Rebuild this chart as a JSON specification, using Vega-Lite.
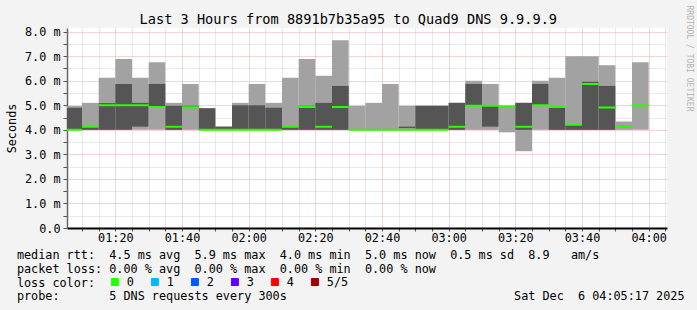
{
  "$schema": "https://vega.github.io/schema/vega-lite/v6.json",
  "width": 600,
  "height": 200,
  "autosize": {"type": "none"},
  "padding": {"left": 67, "top": 28, "right": 30, "bottom": 82},
  "background": "#f3f3f3",
  "title": {
    "text": "Last 3 Hours from 8891b7b35a95 to Quad9 DNS 9.9.9.9",
    "font": "DejaVu Sans Mono", "fontSize": 13.6, "fontWeight": "normal", "color": "black",
    "anchor": "middle", "frame": "group", "dx": -18.7, "dy": 35, "offset": 2, "baseline": "alphabetic"
  },
  "config": {
    "view": {"fill": "white", "stroke": null},
    "axis": {"labelFont": "DejaVu Sans Mono", "titleFont": "DejaVu Sans Mono", "labelColor": "black", "titleColor": "black", "labelFontSize": 11.8, "titleFontSize": 11.8, "titleFontWeight": "normal"}
  },
  "datasets": {
    "bands": [
      {"t0": "2025-12-06T01:05:00", "t1": "2025-12-06T01:10:00", "band": "outer", "lo": 4.0, "hi": 4.97},
      {"t0": "2025-12-06T01:05:00", "t1": "2025-12-06T01:10:00", "band": "inner", "lo": 4.0, "hi": 4.9},
      {"t0": "2025-12-06T01:10:00", "t1": "2025-12-06T01:15:00", "band": "outer", "lo": 4.0, "hi": 5.1},
      {"t0": "2025-12-06T01:10:00", "t1": "2025-12-06T01:15:00", "band": "inner", "lo": 4.0, "hi": 4.13},
      {"t0": "2025-12-06T01:15:00", "t1": "2025-12-06T01:20:00", "band": "outer", "lo": 4.0, "hi": 6.12},
      {"t0": "2025-12-06T01:15:00", "t1": "2025-12-06T01:20:00", "band": "inner", "lo": 4.0, "hi": 5.09},
      {"t0": "2025-12-06T01:20:00", "t1": "2025-12-06T01:25:00", "band": "outer", "lo": 4.0, "hi": 6.89},
      {"t0": "2025-12-06T01:20:00", "t1": "2025-12-06T01:25:00", "band": "inner", "lo": 4.0, "hi": 5.87},
      {"t0": "2025-12-06T01:25:00", "t1": "2025-12-06T01:30:00", "band": "outer", "lo": 4.0, "hi": 6.12},
      {"t0": "2025-12-06T01:25:00", "t1": "2025-12-06T01:30:00", "band": "inner", "lo": 4.13, "hi": 5.1},
      {"t0": "2025-12-06T01:30:00", "t1": "2025-12-06T01:35:00", "band": "outer", "lo": 4.0, "hi": 6.75},
      {"t0": "2025-12-06T01:30:00", "t1": "2025-12-06T01:35:00", "band": "inner", "lo": 4.93, "hi": 5.87},
      {"t0": "2025-12-06T01:35:00", "t1": "2025-12-06T01:40:00", "band": "outer", "lo": 4.0, "hi": 5.1},
      {"t0": "2025-12-06T01:35:00", "t1": "2025-12-06T01:40:00", "band": "inner", "lo": 4.0, "hi": 4.98},
      {"t0": "2025-12-06T01:40:00", "t1": "2025-12-06T01:45:00", "band": "outer", "lo": 4.0, "hi": 5.87},
      {"t0": "2025-12-06T01:40:00", "t1": "2025-12-06T01:45:00", "band": "inner", "lo": 4.92, "hi": 4.98},
      {"t0": "2025-12-06T01:45:00", "t1": "2025-12-06T01:50:00", "band": "outer", "lo": 4.0, "hi": 4.88},
      {"t0": "2025-12-06T01:45:00", "t1": "2025-12-06T01:50:00", "band": "inner", "lo": 4.0, "hi": 4.88},
      {"t0": "2025-12-06T01:50:00", "t1": "2025-12-06T01:55:00", "band": "outer", "lo": 4.0, "hi": 4.13},
      {"t0": "2025-12-06T01:50:00", "t1": "2025-12-06T01:55:00", "band": "inner", "lo": 4.0, "hi": 4.13},
      {"t0": "2025-12-06T01:55:00", "t1": "2025-12-06T02:00:00", "band": "outer", "lo": 4.0, "hi": 5.1},
      {"t0": "2025-12-06T01:55:00", "t1": "2025-12-06T02:00:00", "band": "inner", "lo": 4.0, "hi": 5.0},
      {"t0": "2025-12-06T02:00:00", "t1": "2025-12-06T02:05:00", "band": "outer", "lo": 4.0, "hi": 5.87},
      {"t0": "2025-12-06T02:00:00", "t1": "2025-12-06T02:05:00", "band": "inner", "lo": 4.0, "hi": 5.0},
      {"t0": "2025-12-06T02:05:00", "t1": "2025-12-06T02:10:00", "band": "outer", "lo": 4.0, "hi": 5.1},
      {"t0": "2025-12-06T02:05:00", "t1": "2025-12-06T02:10:00", "band": "inner", "lo": 4.0, "hi": 4.9},
      {"t0": "2025-12-06T02:10:00", "t1": "2025-12-06T02:15:00", "band": "outer", "lo": 4.0, "hi": 6.12},
      {"t0": "2025-12-06T02:10:00", "t1": "2025-12-06T02:15:00", "band": "inner", "lo": 4.0, "hi": 4.13},
      {"t0": "2025-12-06T02:15:00", "t1": "2025-12-06T02:20:00", "band": "outer", "lo": 4.0, "hi": 6.89},
      {"t0": "2025-12-06T02:15:00", "t1": "2025-12-06T02:20:00", "band": "inner", "lo": 4.0, "hi": 4.98},
      {"t0": "2025-12-06T02:20:00", "t1": "2025-12-06T02:25:00", "band": "outer", "lo": 4.0, "hi": 6.2},
      {"t0": "2025-12-06T02:20:00", "t1": "2025-12-06T02:25:00", "band": "inner", "lo": 4.0, "hi": 5.1},
      {"t0": "2025-12-06T02:25:00", "t1": "2025-12-06T02:30:00", "band": "outer", "lo": 4.0, "hi": 7.65},
      {"t0": "2025-12-06T02:25:00", "t1": "2025-12-06T02:30:00", "band": "inner", "lo": 4.0, "hi": 5.79},
      {"t0": "2025-12-06T02:30:00", "t1": "2025-12-06T02:35:00", "band": "outer", "lo": 4.0, "hi": 4.98},
      {"t0": "2025-12-06T02:35:00", "t1": "2025-12-06T02:40:00", "band": "outer", "lo": 4.0, "hi": 5.1},
      {"t0": "2025-12-06T02:40:00", "t1": "2025-12-06T02:45:00", "band": "outer", "lo": 4.0, "hi": 5.87},
      {"t0": "2025-12-06T02:45:00", "t1": "2025-12-06T02:50:00", "band": "outer", "lo": 4.0, "hi": 4.98},
      {"t0": "2025-12-06T02:45:00", "t1": "2025-12-06T02:50:00", "band": "inner", "lo": 4.07, "hi": 4.13},
      {"t0": "2025-12-06T02:50:00", "t1": "2025-12-06T02:55:00", "band": "outer", "lo": 4.0, "hi": 4.98},
      {"t0": "2025-12-06T02:50:00", "t1": "2025-12-06T02:55:00", "band": "inner", "lo": 4.0, "hi": 4.98},
      {"t0": "2025-12-06T02:55:00", "t1": "2025-12-06T03:00:00", "band": "outer", "lo": 4.0, "hi": 4.98},
      {"t0": "2025-12-06T02:55:00", "t1": "2025-12-06T03:00:00", "band": "inner", "lo": 4.0, "hi": 4.98},
      {"t0": "2025-12-06T03:00:00", "t1": "2025-12-06T03:05:00", "band": "outer", "lo": 4.0, "hi": 5.1},
      {"t0": "2025-12-06T03:00:00", "t1": "2025-12-06T03:05:00", "band": "inner", "lo": 4.0, "hi": 5.1},
      {"t0": "2025-12-06T03:05:00", "t1": "2025-12-06T03:10:00", "band": "outer", "lo": 4.0, "hi": 6.0},
      {"t0": "2025-12-06T03:05:00", "t1": "2025-12-06T03:10:00", "band": "inner", "lo": 4.98, "hi": 5.87},
      {"t0": "2025-12-06T03:10:00", "t1": "2025-12-06T03:15:00", "band": "outer", "lo": 4.0, "hi": 5.87},
      {"t0": "2025-12-06T03:10:00", "t1": "2025-12-06T03:15:00", "band": "inner", "lo": 4.13, "hi": 4.98},
      {"t0": "2025-12-06T03:15:00", "t1": "2025-12-06T03:20:00", "band": "outer", "lo": 3.9, "hi": 4.98},
      {"t0": "2025-12-06T03:15:00", "t1": "2025-12-06T03:20:00", "band": "inner", "lo": 4.93, "hi": 4.98},
      {"t0": "2025-12-06T03:20:00", "t1": "2025-12-06T03:25:00", "band": "outer", "lo": 3.13, "hi": 5.1},
      {"t0": "2025-12-06T03:20:00", "t1": "2025-12-06T03:25:00", "band": "inner", "lo": 4.0, "hi": 5.1},
      {"t0": "2025-12-06T03:25:00", "t1": "2025-12-06T03:30:00", "band": "outer", "lo": 4.0, "hi": 6.0},
      {"t0": "2025-12-06T03:25:00", "t1": "2025-12-06T03:30:00", "band": "inner", "lo": 4.98, "hi": 5.87},
      {"t0": "2025-12-06T03:30:00", "t1": "2025-12-06T03:35:00", "band": "outer", "lo": 4.0, "hi": 6.12},
      {"t0": "2025-12-06T03:30:00", "t1": "2025-12-06T03:35:00", "band": "inner", "lo": 4.0, "hi": 4.93},
      {"t0": "2025-12-06T03:35:00", "t1": "2025-12-06T03:40:00", "band": "outer", "lo": 4.0, "hi": 7.0},
      {"t0": "2025-12-06T03:35:00", "t1": "2025-12-06T03:40:00", "band": "inner", "lo": 4.0, "hi": 4.21},
      {"t0": "2025-12-06T03:40:00", "t1": "2025-12-06T03:45:00", "band": "outer", "lo": 4.0, "hi": 7.0},
      {"t0": "2025-12-06T03:40:00", "t1": "2025-12-06T03:45:00", "band": "inner", "lo": 4.0, "hi": 5.96},
      {"t0": "2025-12-06T03:45:00", "t1": "2025-12-06T03:50:00", "band": "outer", "lo": 4.0, "hi": 6.63},
      {"t0": "2025-12-06T03:45:00", "t1": "2025-12-06T03:50:00", "band": "inner", "lo": 4.0, "hi": 5.79},
      {"t0": "2025-12-06T03:50:00", "t1": "2025-12-06T03:55:00", "band": "outer", "lo": 4.0, "hi": 4.34},
      {"t0": "2025-12-06T03:55:00", "t1": "2025-12-06T04:00:00", "band": "outer", "lo": 4.0, "hi": 6.75}
    ],
    "medians": [
      {"t0": "2025-12-06T01:05:00", "t1": "2025-12-06T01:10:00", "median": 4.0, "loss": "0"},
      {"t0": "2025-12-06T01:10:00", "t1": "2025-12-06T01:15:00", "median": 4.13, "loss": "0"},
      {"t0": "2025-12-06T01:15:00", "t1": "2025-12-06T01:20:00", "median": 5.0, "loss": "0"},
      {"t0": "2025-12-06T01:20:00", "t1": "2025-12-06T01:25:00", "median": 5.0, "loss": "0"},
      {"t0": "2025-12-06T01:25:00", "t1": "2025-12-06T01:30:00", "median": 5.0, "loss": "0"},
      {"t0": "2025-12-06T01:30:00", "t1": "2025-12-06T01:35:00", "median": 4.93, "loss": "0"},
      {"t0": "2025-12-06T01:35:00", "t1": "2025-12-06T01:40:00", "median": 4.13, "loss": "0"},
      {"t0": "2025-12-06T01:40:00", "t1": "2025-12-06T01:45:00", "median": 4.92, "loss": "0"},
      {"t0": "2025-12-06T01:45:00", "t1": "2025-12-06T01:50:00", "median": 4.0, "loss": "0"},
      {"t0": "2025-12-06T01:50:00", "t1": "2025-12-06T01:55:00", "median": 4.0, "loss": "0"},
      {"t0": "2025-12-06T01:55:00", "t1": "2025-12-06T02:00:00", "median": 4.0, "loss": "0"},
      {"t0": "2025-12-06T02:00:00", "t1": "2025-12-06T02:05:00", "median": 4.0, "loss": "0"},
      {"t0": "2025-12-06T02:05:00", "t1": "2025-12-06T02:10:00", "median": 4.0, "loss": "0"},
      {"t0": "2025-12-06T02:10:00", "t1": "2025-12-06T02:15:00", "median": 4.13, "loss": "0"},
      {"t0": "2025-12-06T02:15:00", "t1": "2025-12-06T02:20:00", "median": 4.93, "loss": "0"},
      {"t0": "2025-12-06T02:20:00", "t1": "2025-12-06T02:25:00", "median": 4.13, "loss": "0"},
      {"t0": "2025-12-06T02:25:00", "t1": "2025-12-06T02:30:00", "median": 4.93, "loss": "0"},
      {"t0": "2025-12-06T02:30:00", "t1": "2025-12-06T02:35:00", "median": 4.0, "loss": "0"},
      {"t0": "2025-12-06T02:35:00", "t1": "2025-12-06T02:40:00", "median": 4.0, "loss": "0"},
      {"t0": "2025-12-06T02:40:00", "t1": "2025-12-06T02:45:00", "median": 4.0, "loss": "0"},
      {"t0": "2025-12-06T02:45:00", "t1": "2025-12-06T02:50:00", "median": 4.0, "loss": "0"},
      {"t0": "2025-12-06T02:50:00", "t1": "2025-12-06T02:55:00", "median": 4.0, "loss": "0"},
      {"t0": "2025-12-06T02:55:00", "t1": "2025-12-06T03:00:00", "median": 4.0, "loss": "0"},
      {"t0": "2025-12-06T03:00:00", "t1": "2025-12-06T03:05:00", "median": 4.13, "loss": "0"},
      {"t0": "2025-12-06T03:05:00", "t1": "2025-12-06T03:10:00", "median": 4.98, "loss": "0"},
      {"t0": "2025-12-06T03:10:00", "t1": "2025-12-06T03:15:00", "median": 4.98, "loss": "0"},
      {"t0": "2025-12-06T03:15:00", "t1": "2025-12-06T03:20:00", "median": 4.93, "loss": "0"},
      {"t0": "2025-12-06T03:20:00", "t1": "2025-12-06T03:25:00", "median": 4.13, "loss": "0"},
      {"t0": "2025-12-06T03:25:00", "t1": "2025-12-06T03:30:00", "median": 5.0, "loss": "0"},
      {"t0": "2025-12-06T03:30:00", "t1": "2025-12-06T03:35:00", "median": 4.93, "loss": "0"},
      {"t0": "2025-12-06T03:35:00", "t1": "2025-12-06T03:40:00", "median": 4.21, "loss": "0"},
      {"t0": "2025-12-06T03:40:00", "t1": "2025-12-06T03:45:00", "median": 5.87, "loss": "0"},
      {"t0": "2025-12-06T03:45:00", "t1": "2025-12-06T03:50:00", "median": 4.91, "loss": "0"},
      {"t0": "2025-12-06T03:50:00", "t1": "2025-12-06T03:55:00", "median": 4.13, "loss": "0"},
      {"t0": "2025-12-06T03:55:00", "t1": "2025-12-06T04:00:00", "median": 5.0, "loss": "0"}
    ]
  },
  "encoding": {
    "x": {
      "field": "t0", "type": "temporal",
      "scale": {"domain": [{"year": 2025, "month": 12, "date": 6, "hours": 1, "minutes": 5, "seconds": 30}, {"year": 2025, "month": 12, "date": 6, "hours": 4, "minutes": 5, "seconds": 30}], "nice": false},
      "axis": {
        "values": [
          {"year": 2025, "month": 12, "date": 6, "hours": 1, "minutes": 10}, {"year": 2025, "month": 12, "date": 6, "hours": 1, "minutes": 15},
          {"year": 2025, "month": 12, "date": 6, "hours": 1, "minutes": 20}, {"year": 2025, "month": 12, "date": 6, "hours": 1, "minutes": 25},
          {"year": 2025, "month": 12, "date": 6, "hours": 1, "minutes": 30}, {"year": 2025, "month": 12, "date": 6, "hours": 1, "minutes": 35},
          {"year": 2025, "month": 12, "date": 6, "hours": 1, "minutes": 40}, {"year": 2025, "month": 12, "date": 6, "hours": 1, "minutes": 45},
          {"year": 2025, "month": 12, "date": 6, "hours": 1, "minutes": 50}, {"year": 2025, "month": 12, "date": 6, "hours": 1, "minutes": 55},
          {"year": 2025, "month": 12, "date": 6, "hours": 2, "minutes": 0}, {"year": 2025, "month": 12, "date": 6, "hours": 2, "minutes": 5},
          {"year": 2025, "month": 12, "date": 6, "hours": 2, "minutes": 10}, {"year": 2025, "month": 12, "date": 6, "hours": 2, "minutes": 15},
          {"year": 2025, "month": 12, "date": 6, "hours": 2, "minutes": 20}, {"year": 2025, "month": 12, "date": 6, "hours": 2, "minutes": 25},
          {"year": 2025, "month": 12, "date": 6, "hours": 2, "minutes": 30}, {"year": 2025, "month": 12, "date": 6, "hours": 2, "minutes": 35},
          {"year": 2025, "month": 12, "date": 6, "hours": 2, "minutes": 40}, {"year": 2025, "month": 12, "date": 6, "hours": 2, "minutes": 45},
          {"year": 2025, "month": 12, "date": 6, "hours": 2, "minutes": 50}, {"year": 2025, "month": 12, "date": 6, "hours": 2, "minutes": 55},
          {"year": 2025, "month": 12, "date": 6, "hours": 3, "minutes": 0}, {"year": 2025, "month": 12, "date": 6, "hours": 3, "minutes": 5},
          {"year": 2025, "month": 12, "date": 6, "hours": 3, "minutes": 10}, {"year": 2025, "month": 12, "date": 6, "hours": 3, "minutes": 15},
          {"year": 2025, "month": 12, "date": 6, "hours": 3, "minutes": 20}, {"year": 2025, "month": 12, "date": 6, "hours": 3, "minutes": 25},
          {"year": 2025, "month": 12, "date": 6, "hours": 3, "minutes": 30}, {"year": 2025, "month": 12, "date": 6, "hours": 3, "minutes": 35},
          {"year": 2025, "month": 12, "date": 6, "hours": 3, "minutes": 40}, {"year": 2025, "month": 12, "date": 6, "hours": 3, "minutes": 45},
          {"year": 2025, "month": 12, "date": 6, "hours": 3, "minutes": 50}, {"year": 2025, "month": 12, "date": 6, "hours": 3, "minutes": 55},
          {"year": 2025, "month": 12, "date": 6, "hours": 4, "minutes": 0}, {"year": 2025, "month": 12, "date": 6, "hours": 4, "minutes": 5}
        ],
        "labelExpr": "minutes(datum.value) % 20 == 0 ? timeFormat(datum.value, '%H:%M') : ''",
        "labelOverlap": false, "labelFlush": false, "labelPadding": 1,
        "tickSize": 3, "tickColor": "#555555",
        "domainColor": "black", "domainWidth": 2,
        "grid": true,
        "gridColor": {"condition": {"test": "minutes(datum.value) % 20 == 0", "value": "#eaa8a8"}, "value": "#d2d2d2"},
        "gridDash": [1, 1],
        "title": [
          "median rtt:\u00a0\u00a04.5 ms avg\u00a0\u00a05.9 ms max\u00a0\u00a04.0 ms min\u00a0\u00a05.0 ms now\u00a0\u00a00.5 ms sd\u00a0\u00a08.9\u00a0\u00a0\u00a0am/s",
          "packet loss: 0.00 % avg\u00a0\u00a00.00 % max\u00a0\u00a00.00 % min\u00a0\u00a00.00 % now",
          "loss color:",
          "probe:\u00a0\u00a0\u00a0\u00a0\u00a0\u00a0\u00a05 DNS requests every 300s\u00a0\u00a0\u00a0\u00a0\u00a0\u00a0\u00a0\u00a0\u00a0\u00a0\u00a0\u00a0\u00a0\u00a0\u00a0\u00a0\u00a0\u00a0\u00a0\u00a0\u00a0\u00a0\u00a0\u00a0\u00a0\u00a0\u00a0\u00a0\u00a0\u00a0\u00a0\u00a0Sat Dec\u00a0\u00a06 04:05:17 2025"
        ],
        "titleX": -50.6, "titleY": 30.7, "titleAlign": "left", "titleBaseline": "alphabetic", "titleLineHeight": 13.7
      }
    },
    "x2": {"field": "t1"}
  },
  "layer": [
    {
      "data": {"name": "bands"},
      "mark": {"type": "rect", "clip": true},
      "encoding": {
        "y": {
          "field": "lo", "type": "quantitative",
          "scale": {"domain": [0, 8.15], "nice": false, "zero": false},
          "axis": {
            "values": [0, 0.5, 1, 1.5, 2, 2.5, 3, 3.5, 4, 4.5, 5, 5.5, 6, 6.5, 7, 7.5, 8],
            "labelExpr": "datum.value % 1 != 0 ? '' : (datum.value == 0 ? '0.0\u00a0\u00a0' : format(datum.value, '.1f') + ' m')",
            "labelOverlap": false, "labelPadding": 3, "labelBaseline": "middle",
            "tickSize": 4,
            "tickColor": "#555555",
            "domainColor": "#666666", "domainWidth": 1.5,
            "grid": true,
            "gridColor": {"condition": {"test": "datum.value % 1 == 0", "value": "#eaa8a8"}, "value": "#d2d2d2"},
            "gridDash": [1, 1],
            "title": "Seconds", "titleAngle": 270, "titleX": -56, "titleY": 100, "titleAlign": "center", "titleBaseline": "middle"
          }
        },
        "y2": {"field": "hi"},
        "fill": {"field": "band", "type": "nominal", "scale": {"domain": ["outer", "inner"], "range": ["#a2a2a2", "#555555"]}, "legend": null}
      }
    },
    {
      "data": {"name": "medians"},
      "mark": {"type": "rect", "clip": true, "strokeWidth": 2},
      "encoding": {
        "y": {
          "field": "median", "type": "quantitative",
          "scale": {"domain": [0, 8.15], "nice": false, "zero": false},
          "axis": {"orient": "right", "labels": false, "ticks": false, "domain": false, "grid": false,
            "title": "RRDTOOL / TOBI OETIKER", "titleAngle": 90, "titleFontSize": 8, "titleColor": "#b4b4b4",
            "titleX": 21, "titleY": -23, "titleAlign": "left", "titleBaseline": "middle"}
        },
        "y2": {"field": "median"},
        "color": {
          "field": "loss", "type": "nominal",
          "scale": {"domain": ["0", "1", "2", "3", "4", "5/5"], "range": ["#26ff00", "#00b8ff", "#0059ff", "#5e00ff", "#ff0000", "#a10000"]},
          "legend": {
            "orient": "none", "legendX": 42, "legendY": 248, "direction": "horizontal", "padding": 0,
            "title": null,
            "symbolType": "square", "symbolSize": 49, "symbolStrokeColor": "black", "symbolStrokeWidth": 1, "symbolOpacity": 1,
            "labelFont": "DejaVu Sans Mono", "labelFontSize": 11.8, "labelColor": "black", "labelOffset": 6,
            "columnPadding": -4, "gridAlign": "all"
          }
        },
        "stroke": {
          "field": "loss", "type": "nominal",
          "scale": {"domain": ["0", "1", "2", "3", "4", "5/5"], "range": ["#26ff00", "#00b8ff", "#0059ff", "#5e00ff", "#ff0000", "#a10000"]},
          "legend": null
        }
      }
    }
  ],
  "resolve": {"scale": {"y": "independent"}}
}
